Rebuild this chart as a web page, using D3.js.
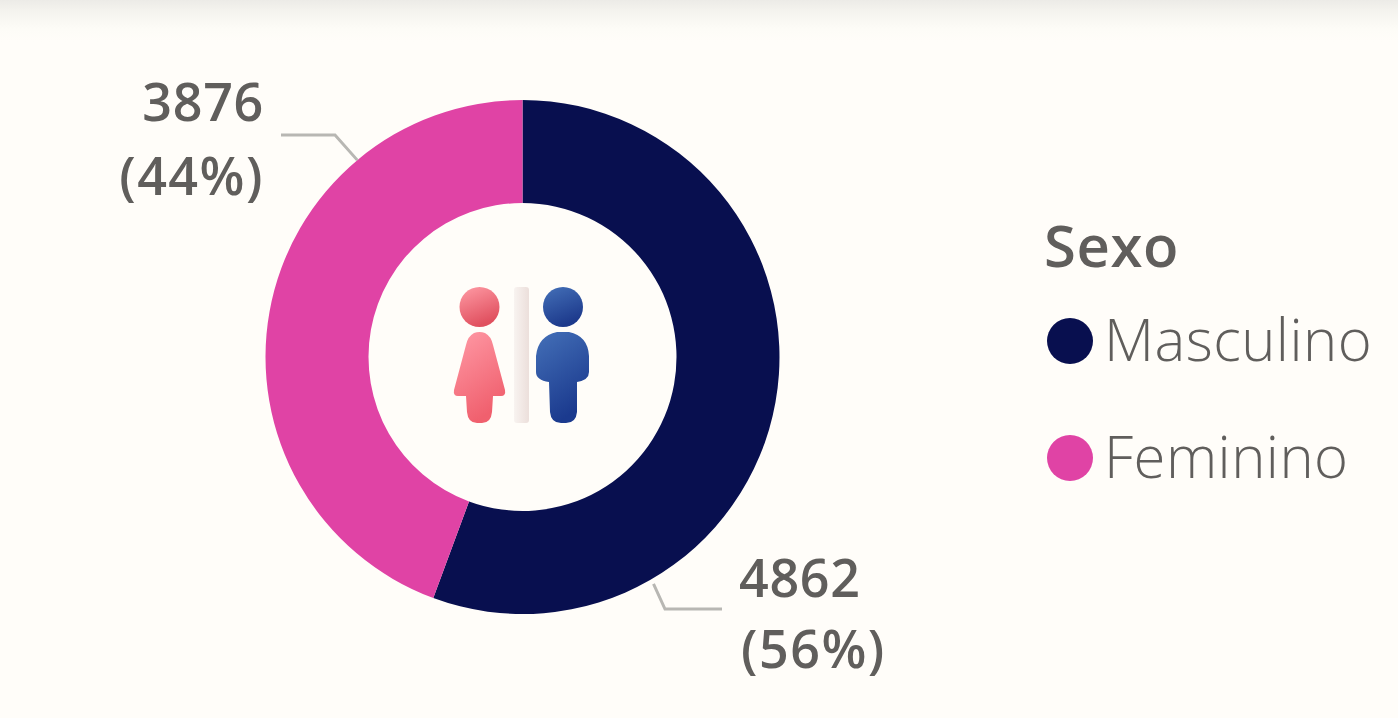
<!DOCTYPE html>
<html lang="pt">
<head>
  <meta charset="utf-8">
  <title>Sexo</title>
  <script src="https://d3js.org/d3.v7.min.js"></script>
  <style>
    html, body { margin: 0; height: 100%; overflow: hidden; background: #fffdf9; }
    svg { display: block; filter: blur(0.6px); }
    text { font-family: "Open Sans", sans-serif; fill: #605e5c; }
    .value { font-size: 52px; font-weight: 600; letter-spacing: 0.7px; }
    .value.pct { letter-spacing: 1.5px; }
    .legend-title { font-size: 58px; font-weight: 600; letter-spacing: 0.6px; }
    .legend-item { font-size: 58px; font-weight: 300; letter-spacing: 0.45px; }
    .leader { fill: none; stroke: #b8b7b3; stroke-width: 3px; }
  </style>
</head>
<body>
  <div id="chart"></div>

  <script>
    const categories = ["Masculino", "Feminino"];
    const values = [4862, 3876];
    const colors = ["#080f4f", "#e043a5"];
    const legendTitle = "Sexo";

    const width = 1398, height = 718;
    const cx = 522.5, cy = 357;
    const outerR = 257, innerR = 154;

    // leader lines do not start at the mid angle in the original, so set by hand
    const labelSetup = [
      { angle: 150, r: 262, elbow: [665, 609], end: [722, 609], x: 739, xPct: 741, anchor: "start", y1: 597, y2: 668 },
      { angle: 320, r: 257, elbow: [335, 135], end: [281, 135], x: 264, xPct: 264, anchor: "end", y1: 121, y2: 195 }
    ];

    const svg = d3.select("#chart").append("svg").attr("width", width).attr("height", height);
    const defs = svg.append("defs");

    // faint shadow along the top edge
    const topShade = defs.append("linearGradient").attr("id", "topShade")
      .attr("x1", 0).attr("y1", 0).attr("x2", 0).attr("y2", 1);
    topShade.append("stop").attr("offset", 0).attr("stop-color", "#ecebe7");
    topShade.append("stop").attr("offset", 0.25).attr("stop-color", "#f4f3ee");
    topShade.append("stop").attr("offset", 0.7).attr("stop-color", "#fdfcf7");
    topShade.append("stop").attr("offset", 1).attr("stop-color", "#fffdf9");
    svg.append("rect").attr("width", width).attr("height", 42).attr("fill", "url(#topShade)");

    // donut
    const pie = d3.pie().sort(null)(values);
    const arc = d3.arc().innerRadius(innerR).outerRadius(outerR);
    svg.append("g").attr("transform", `translate(${cx},${cy})`)
      .selectAll("path")
      .data(pie)
      .enter().append("path")
      .attr("d", arc)
      .attr("fill", (d, i) => colors[i]);

    // labels with leader lines
    const total = d3.sum(values);
    const pct = d3.format(".0%");
    const line = d3.line();
    values.forEach((v, i) => {
      const s = labelSetup[i];
      const start = d3.pointRadial(s.angle * Math.PI / 180, s.r);
      svg.append("path").attr("class", "leader")
        .attr("d", line([[cx + start[0], cy + start[1]], s.elbow, s.end]));
      svg.append("text").attr("class", "value").attr("x", s.x).attr("y", s.y1)
        .attr("text-anchor", s.anchor).text(v);
      svg.append("text").attr("class", "value pct").attr("x", s.xPct).attr("y", s.y2)
        .attr("text-anchor", s.anchor).text(`(${pct(v / total)})`);
    });

    // legend
    svg.append("text").attr("class", "legend-title").attr("x", 1044).attr("y", 267).text(legendTitle);
    const legendY = d3.scalePoint().domain(categories).range([341, 458]);
    const legend = svg.append("g").selectAll("g")
      .data(categories)
      .enter().append("g")
      .attr("transform", d => `translate(0,${legendY(d)})`);
    legend.append("circle").attr("cx", 1070).attr("r", 23).attr("fill", (d, i) => colors[i]);
    legend.append("text").attr("class", "legend-item").attr("x", 1104).attr("y", 20).text(d => d);

    // toilet style icon in the donut hole
    function grad(id, c1, c2) {
      const g = defs.append("linearGradient").attr("id", id)
        .attr("x1", 0).attr("y1", 0).attr("x2", 0.4).attr("y2", 1);
      g.append("stop").attr("offset", 0).attr("stop-color", c1);
      g.append("stop").attr("offset", 1).attr("stop-color", c2);
    }
    grad("pinkHead", "#ff9ba5", "#e0505f");
    grad("pinkBody", "#ff9aa6", "#f0606e");
    grad("blueHead", "#4470b8", "#1d3a8c");
    grad("blueBody", "#4470b8", "#1b3a8e");
    const barGrad = defs.append("linearGradient").attr("id", "barGrad");
    barGrad.append("stop").attr("offset", 0).attr("stop-color", "#f8f3f0");
    barGrad.append("stop").attr("offset", 1).attr("stop-color", "#ecdfdb");

    const icon = svg.append("g");
    icon.append("circle").attr("cx", 479.5).attr("cy", 307).attr("r", 20).attr("fill", "url(#pinkHead)");
    icon.append("path").attr("fill", "url(#pinkBody)")
      .attr("d", "M474 333 Q479.5 331 485 333 Q491 336 493 345 L505 390 Q506 396 501 396 L493 396 L492 412 Q491 423 482 423 L477 423 Q468 423 467 412 L466 396 L458 396 Q453 396 454 390 L466 345 Q468 336 474 333 Z");
    icon.append("rect").attr("x", 514).attr("y", 287).attr("width", 15).attr("height", 136)
      .attr("rx", 3).attr("fill", "url(#barGrad)");
    icon.append("circle").attr("cx", 563).attr("cy", 307).attr("r", 20).attr("fill", "url(#blueHead)");
    icon.append("path").attr("fill", "url(#blueBody)")
      .attr("d", "M557 332 L569 332 Q588 336 589 356 L589 372 Q589 380 577 382 L577 412 Q576 423 566 423 L561 423 Q551 423 550 412 L549 382 Q536 380 536 372 L536 356 Q538 336 557 332 Z");
  </script>
</body>
</html>
